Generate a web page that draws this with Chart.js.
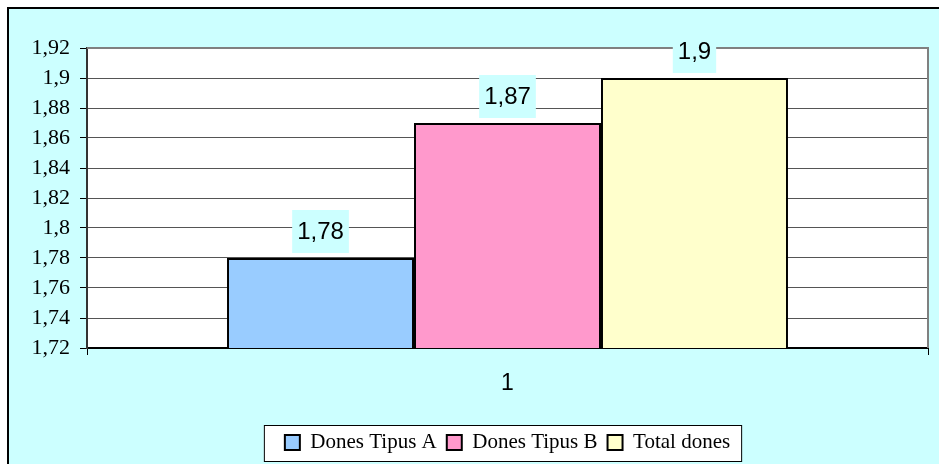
<!DOCTYPE html>
<html>
<head>
<meta charset="utf-8">
<script src="https://cdn.jsdelivr.net/npm/chart.js@4.4.1/dist/chart.umd.min.js"></script>
<style>
  html, body { margin: 0; padding: 0; background: #fff; }
  #wrap { width: 939px; height: 464px; }
</style>
</head>
<body>
<div id="wrap"><canvas id="myChart" width="939" height="464"></canvas></div>
<script>
'use strict';

// dades llegides del gràfic
const categories = ['1'];
const seriesNames = ['Dones Tipus A', 'Dones Tipus B', 'Total dones'];
const donesTipusA = [1.78];
const donesTipusB = [1.87];
const totalDones = [1.9];
const yMin = 1.72;
const yMax = 1.92;
const yStep = 0.02;

const colors = ['#99CCFF', '#FF99CC', '#FFFFCC'];
const bgColor = '#CCFFFF';

function fmt(v) {
	return String(Math.round(v * 100) / 100).replace('.', ',');
}

// fons, vora exterior i àrea blanca del gràfic
const fonsPlugin = {
	id: 'fons',
	beforeDraw(chart) {
		const c = chart.ctx;
		const a = chart.chartArea;
		c.save();
		c.fillStyle = '#fff';
		c.fillRect(0, 0, chart.width, chart.height);
		c.fillStyle = bgColor;
		c.fillRect(8, 8, chart.width - 8, chart.height - 8);
		c.strokeStyle = '#000';
		c.lineWidth = 2;
		c.beginPath();
		c.moveTo(8, chart.height);
		c.lineTo(8, 8);
		c.lineTo(chart.width, 8);
		c.stroke();
		c.fillStyle = '#fff';
		c.fillRect(a.left, a.top, a.right - a.left, a.bottom - a.top);
		// caixa de la llegenda
		const boxes = chart.legend.legendHitBoxes;
		if (boxes && boxes.length) {
			const first = boxes[0], last = boxes[boxes.length - 1];
			const x0 = first.left - 21, x1 = last.left + last.width + 11;
			const cy = first.top + first.height / 2;
			const y0 = Math.round(cy - 18), y1 = Math.round(cy + 18);
			c.fillStyle = '#fff';
			c.fillRect(x0, y0, x1 - x0, y1 - y0);
			c.strokeStyle = '#000';
			c.lineWidth = 1;
			c.strokeRect(x0 + 0.5, y0 + 0.5, x1 - x0, y1 - y0);
		}
		c.restore();
	},
	beforeDatasetsDraw(chart) {
		const c = chart.ctx;
		const a = chart.chartArea;
		c.save();
		c.strokeStyle = '#808080';
		c.lineWidth = 2;
		c.beginPath();
		c.moveTo(a.left, a.top);
		c.lineTo(a.right, a.top);
		c.lineTo(a.right, a.bottom);
		c.stroke();
		c.restore();
	}
};

// etiquetes de valor sobre les barres
const etiquetesPlugin = {
	id: 'etiquetes',
	afterDatasetsDraw(chart) {
		const c = chart.ctx;
		c.save();
		c.font = '24px "Liberation Sans", Arial, sans-serif';
		c.textAlign = 'center';
		c.textBaseline = 'middle';
		chart.data.datasets.forEach((ds, i) => {
			chart.getDatasetMeta(i).data.forEach((bar, j) => {
				const txt = fmt(ds.data[j]);
				const w = c.measureText(txt).width + 10;
				const h = 43;
				const x = bar.x;
				const yb = bar.y - 5;
				c.fillStyle = bgColor;
				c.fillRect(x - w / 2, yb - h, w, h);
				c.fillStyle = '#000';
				c.fillText(txt, x, yb - h / 2 + 1);
			});
		});
		c.restore();
	}
};

const ctx = document.getElementById('myChart');
const valors = [donesTipusA, donesTipusB, totalDones];

new Chart(ctx, {
	type: 'bar',
	data: {
		labels: categories,
		datasets: seriesNames.map((nom, i) => ({
			label: nom,
			data: valors[i],
			backgroundColor: colors[i],
			borderColor: '#000',
			borderWidth: 2,
			borderSkipped: false,
			categoryPercentage: 0.667,
			barPercentage: 1.0,
		}))
	},
	options: {
		responsive: false,
		animation: false,
		devicePixelRatio: 1,
		layout: { padding: { top: 48, right: 11, bottom: 1, left: 0 } },
		plugins: {
			tooltip: { enabled: false },
			legend: {
				position: 'bottom',
				fullSize: false,
				labels: {
					color: '#000',
					font: { family: '"Liberation Serif", "Times New Roman", serif', size: 21 },
					boxWidth: 15,
					boxHeight: 15,
					padding: 10,
				}
			}
		},
		scales: {
			x: {
				afterFit(scale) { scale.height = 74; },
				border: { color: '#000', width: 2 },
				grid: { display: true, drawOnChartArea: false, offset: true, tickLength: 7, color: '#000' },
				ticks: {
					color: '#000',
					padding: 15,
					font: { family: '"Liberation Sans", Arial, sans-serif', size: 23 }
				}
			},
			y: {
				min: yMin,
				max: yMax,
				afterFit(scale) { scale.width = 87; },
				border: { color: '#333', width: 2 },
				grid: { color: '#555', lineWidth: 1, tickLength: 7, tickColor: '#000' },
				ticks: {
					stepSize: yStep,
					color: '#000',
					padding: 10,
					font: { family: '"Liberation Serif", "Times New Roman", serif', size: 22 },
					callback: (v) => fmt(v)
				}
			}
		}
	},
	plugins: [fonsPlugin, etiquetesPlugin]
});
</script>
</body>
</html>
